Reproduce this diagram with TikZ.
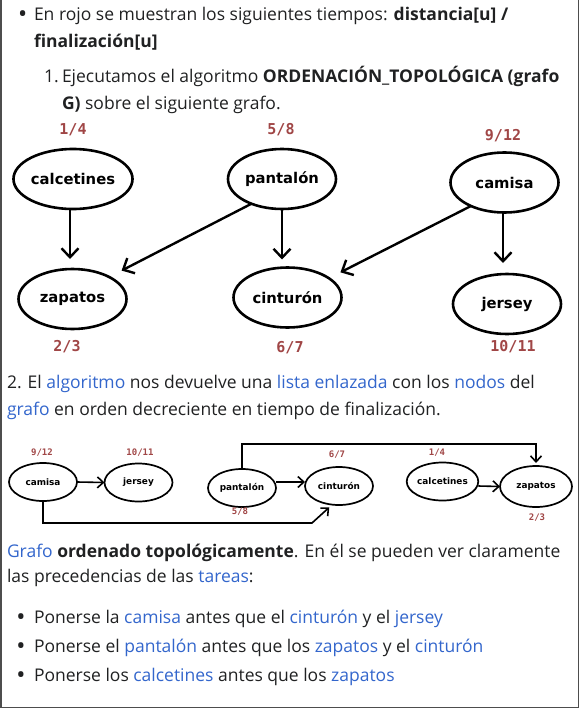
\documentclass[tikz,border=0pt]{standalone}
\usepackage{fontspec}
\setmainfont{Open Sans}
\newfontfamily\grafofont{DejaVu Sans}
\newfontfamily\tiempofont{DejaVu Sans Mono}
\usetikzlibrary{shapes.geometric, arrows.meta, positioning}
\usepackage{xcolor}
\definecolor{texto}{HTML}{202122}
\definecolor{enlace}{HTML}{3366CC}
\definecolor{tiempo}{HTML}{A04646}
\definecolor{marco}{HTML}{4D4D4D}
\newcommand{\enl}[1]{\textcolor{enlace}{#1}}

\begin{document}
\begin{tikzpicture}[
    x=1pt, y=-1pt,
    every node/.style={inner sep=0pt, outer sep=0pt},
    linea/.style={anchor=base west, text=texto, font=\fontsize{17.5}{22}\selectfont},
    punto/.style={anchor=base, text=texto, font=\bfseries\fontsize{19}{22}\selectfont},
    nodo/.style={ellipse, draw, line width=2.6pt, minimum width=108pt, minimum height=60pt,
                 font=\grafofont\bfseries\fontsize{14.8}{15}\selectfont},
    nodito/.style={ellipse, draw, line width=1.7pt, minimum width=68pt, minimum height=38pt,
                   font=\grafofont\bfseries\fontsize{8.9}{9}\selectfont},
    tiempo/.style={text=tiempo, font=\tiempofont\bfseries\fontsize{15}{15}\selectfont},
    tiempito/.style={text=tiempo, font=\tiempofont\bfseries\fontsize{9}{9}\selectfont},
    flecha/.style={-{Straight Barb[length=9pt, width=17pt]}, line width=2.4pt},
    flechita/.style={-{Straight Barb[length=6pt, width=11pt]}, line width=1.6pt}
]
    \useasboundingbox (0,0) rectangle (580,709);
    \draw[marco, line width=1.5pt] (1,0) -- (1,707.5) -- (578.5,707.5) -- (578.5,0);

    \node[punto] (p1) at (22.7,20.5) {•};
    \node[linea] (l1) at (34,20.5) {En rojo se muestran los siguientes tiempos: \textbf{distancia[u] /}};
    \node[linea] (l2) at (34,48) {\textbf{finalización[u]}};
    \node[linea] (n1) at (44,82) {1.};
    \node[linea] (l3) at (62,82) {Ejecutamos el algoritmo \textbf{ORDENACIÓN\_TOPOLÓGICA (grafo}};
    \node[linea] (l4) at (62,109) {\textbf{G)} sobre el siguiente grafo.};

    \node[nodo] (calce) at (73,179) {calcetines};
    \node[nodo] (panta) at (282,179) {pantalón};
    \node[nodo] (camisa) at (504.5,182.5) {camisa};
    \node[nodo] (zapa) at (72.5,299) {zapatos};
    \node[nodo] (cintu) at (287.5,297.5) {cinturón};
    \node[nodo] (jersey) at (507,304) {jersey};

    \node[tiempo] (t14) at (73,130) {1/4};
    \node[tiempo] (t58) at (281,130) {5/8};
    \node[tiempo] (t912) at (503,136) {9/12};
    \node[tiempo] (t23) at (67,347) {2/3};
    \node[tiempo] (t67) at (290,348) {6/7};
    \node[tiempo] (t1011) at (513,347) {10/11};

    \draw[flecha, shorten >=10pt] ([xshift=-3pt]calce.south) -- ([xshift=-2.5pt]zapa.north);
    \draw[flecha, shorten >=8pt] (panta.south) -- (panta.south |- cintu.north);
    \draw[flecha, shorten >=14pt] (panta.219) -- (zapa.31);
    \draw[flecha, shorten >=11pt] ([xshift=-1.5pt]camisa.south) -- ([xshift=-1.5pt]camisa.south |- jersey.north);
    \draw[flecha, shorten >=13pt] (camisa.215) -- (cintu.25);

    \node[linea] (l5) at (7,388) {2. El \enl{algoritmo} nos devuelve una \enl{lista enlazada} con los \enl{nodos} del};
    \node[linea] (l6) at (7,415) {\enl{grafo} en orden decreciente en tiempo de finalización.};

    \node[nodito] (camisaL) at (43,482) {camisa};
    \node[nodito] (jerseyL) at (138.5,482.5) {jersey};
    \node[nodito] (pantaL) at (242,488) {pantalón};
    \node[nodito] (cintuL) at (339,486) {cinturón};
    \node[nodito] (calceL) at (442.5,481.5) {calcetines};
    \node[nodito, minimum width=72pt, minimum height=41pt] (zapaL) at (536,486.5) {zapatos};

    \node[tiempito] (s912) at (42,453) {9/12};
    \node[tiempito] (s1011) at (140,453) {10/11};
    \node[tiempito] (s58) at (240,512) {5/8};
    \node[tiempito] (s67) at (337,455) {6/7};
    \node[tiempito] (s14) at (437,453) {1/4};
    \node[tiempito] (s23) at (537,518) {2/3};

    \draw[flechita] (camisaL.east) -- (jerseyL.west);
    \draw[flechita] ([yshift=6pt]pantaL.east) -- ([yshift=4pt]cintuL.west);
    \draw[flechita] ([yshift=-4.5pt]calceL.east) -- (zapaL.west);
    \draw[flechita, shorten >=3pt] (pantaL.north) -- ++(0,-25) -| (zapaL.north);
    \draw[flechita, shorten >=4pt] (camisaL.south) |- ([xshift=-27pt, yshift=-18pt]cintuL.south) -- (cintuL.250);

    \node[linea] (l7) at (7,557) {\enl{Grafo} \textbf{ordenado topológicamente}. En él se pueden ver claramente};
    \node[linea] (l8) at (7,582) {las precedencias de las \enl{tareas}:};

    \node[punto] (p2) at (21,623) {•};
    \node[linea] (b1) at (34,623) {Ponerse la \enl{camisa} antes que el \enl{cinturón} y el \enl{jersey}};
    \node[punto] (p3) at (21,652) {•};
    \node[linea] (b2) at (34,652) {Ponerse el \enl{pantalón} antes que los \enl{zapatos} y el \enl{cinturón}};
    \node[punto] (p4) at (21,681) {•};
    \node[linea] (b3) at (34,681) {Ponerse los \enl{calcetines} antes que los \enl{zapatos}};
\end{tikzpicture}
\end{document}
